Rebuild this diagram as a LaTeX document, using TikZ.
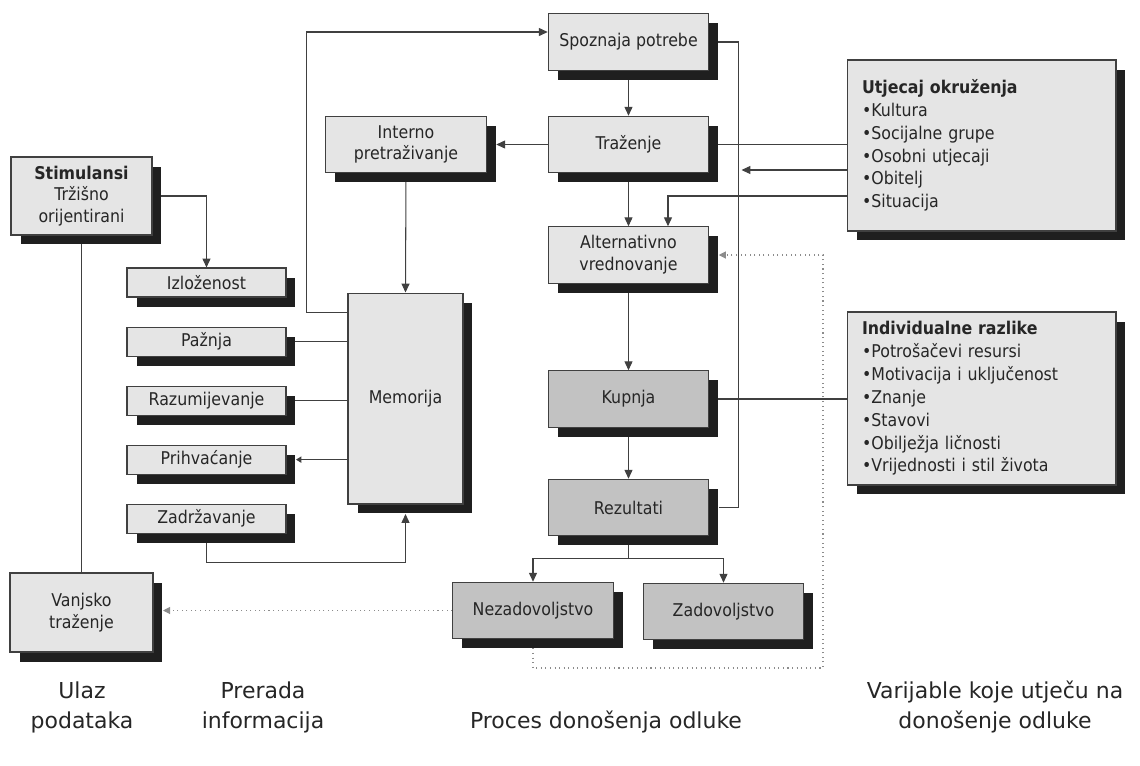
\documentclass[tikz,border=0pt]{standalone}
\usepackage{fontspec}
\setmainfont{DejaVu Sans}
\newfontfamily\boxfont{DejaVu Sans}[FakeStretch=0.9]
\usetikzlibrary{arrows.meta, positioning, shadows, backgrounds, calc}
\tikzset{
  box/.style={rectangle, draw=black!75, fill=#1, line width=0.6pt,
              font=\boxfont\fontsize{10}{12.4}\selectfont, text=black!85,
              align=center, inner sep=2pt,
              general shadow={fill=black!88, draw=none,
                              shadow xshift=0.19cm, shadow yshift=-0.19cm}},
  box/.default=black!10,
  wide/.style={minimum width=3.21cm, minimum height=1.13cm},
  small/.style={minimum width=3.18cm, minimum height=0.58cm},
  listbox/.style={minimum width=5.38cm, text width=4.78cm, align=left,
                  font=\boxfont\fontsize{10}{13}\selectfont},
  arr/.style={-{Triangle[length=5pt, width=4.5pt]}, line width=0.6pt, black!75},
  tinyarr/.style={-{Triangle[length=3pt, width=3.5pt]}, line width=0.6pt, black!75},
  line/.style={line width=0.6pt, black!75},
  dotarr/.style={-{Triangle[length=4pt, width=4pt]}, dotted, line width=0.6pt, black!45},
  dotline/.style={dotted, line width=0.6pt, black!45},
  lbl/.style={font=\fontsize{12.5}{17}\selectfont, text=black!85, align=center},
}

\begin{document}
\begin{tikzpicture}[x=0.02cm, y=-0.02cm]
  \useasboundingbox (0,0) rectangle (1140,765);
  %% Decision process
  \node[box, wide] (spoz) at (628.5,42)    {Spoznaja potrebe};
  \node[box, wide] (traz) at (628.5,144.5) {Traženje};
  \node[box, wide] (alt)  at (628.5,255)   {Alternativno\\vrednovanje};
  \node[box=black!24, wide] (kup) at (628.5,399)   {Kupnja};
  \node[box=black!24, wide] (rez) at (628.5,507.5) {Rezultati};
  \node[box=black!24, wide] (nez) at (533,610.5)   {Nezadovoljstvo};
  \node[box=black!24, wide] (zad) at (723.5,611.5) {Zadovoljstvo};
  %% Information processing
  \node[box, wide] (int) at (406,144.5) {Interno\\pretraživanje};
  \node[box, minimum width=2.3cm, minimum height=4.22cm] (mem) at (405.5,398.5) {Memorija};
  \node[box, small] (izl) at (206.5,282.5) {Izloženost};
  \node[box, small, below=0.58cm of izl]  (paz)  {Pažnja};
  \node[box, small, below=0.58cm of paz]  (razu) {Razumijevanje};
  \node[box, small, below=0.58cm of razu] (prih) {Prihvaćanje};
  \node[box, small, below=0.58cm of prih] (zadr) {Zadržavanje};
  %% Input
  \node[box, minimum width=2.82cm, minimum height=1.56cm] (stim) at (81.5,196)
    {\textbf{Stimulansi}\\Tržišno\\orijentirani};
  \node[box, minimum width=2.86cm, minimum height=1.58cm] (vanj) at (81.5,612.5)
    {Vanjsko\\traženje};
  %% Variables
  \node[box, listbox, minimum height=3.42cm] (utj) at (981.5,145.5)
    {\textbf{Utjecaj okruženja}\\•Kultura\\•Socijalne grupe\\•Osobni utjecaji\\•Obitelj\\•Situacija};
  \node[box, listbox, minimum height=3.46cm] (ind) at (981.5,398.5)
    {\textbf{Individualne razlike}\\•Potrošačevi resursi\\•Motivacija i uključenost\\•Znanje\\•Stavovi\\•Obilježja ličnosti\\•Vrijednosti i stil života};
  %% Column labels
  \node[lbl] (ulaz) at (82,707)   {Ulaz\\podataka};
  \node[lbl] (prer) at (263,707)  {Prerada\\informacija};
  \node[lbl] (proc) at (606,722)  {Proces donošenja odluke};
  \node[lbl] (vari) at (995,707)  {Varijable koje utječu na\\donošenje odluke};
  %% Connectors
  \begin{scope}[on background layer]
    \foreach \a/\b in {spoz/traz, traz/alt, alt/kup, kup/rez}
      \draw[arr] (\a) -- (\b);
    \draw[arr] (rez.south) -- ++(0,22.5) coordinate (split) -| (nez.north);
    \draw[arr] (split) -| (zad.north);
    \draw[arr] (traz.west) -- ([xshift=0.19cm]int.east);
    \draw[arr] (int.south) -- (mem.north);
    \draw[arr] ([yshift=-0.4cm]mem.north west) -- ++(-41,0) |- ([yshift=0.2cm]spoz.west);
    \draw[line] (spoz.east) -- ++(29,0) |- ([xshift=0.19cm]rez.east);
    \draw[line] (traz.east) -- (traz.east -| utj.west);
    \draw[arr] ([yshift=-0.49cm]utj.west) -- ++(-105,0);
    \draw[arr] ([yshift=-1.01cm]utj.west) -| ([xshift=0.79cm]alt.north);
    \draw[line] (kup.east) -- (kup.east -| ind.west);
    % feedback from dissatisfaction
    \coordinate (fb) at (823,668);
    \draw[dotarr] (nez.south) |- (fb) |- ([xshift=0.19cm]alt.east);
    \coordinate (vs) at ([xshift=0.19cm]vanj.east);
    \draw[dotarr] (nez.west) -- (nez.west -| vs);
    % input and memory
    \draw[arr] (stim.east) -| (izl.north);
    \draw[line] (stim.south) -- (vanj.north);
    \foreach \n in {paz, razu}
      \draw[line] (\n.east) -- (\n.east -| mem.west);
    \draw[tinyarr] (prih.east -| mem.west) -- ([xshift=0.19cm]prih.east);
    \draw[arr] (zadr.south) -- ++(0,29) -| ([yshift=-0.19cm]mem.south);
  \end{scope}
\end{tikzpicture}
\end{document}
